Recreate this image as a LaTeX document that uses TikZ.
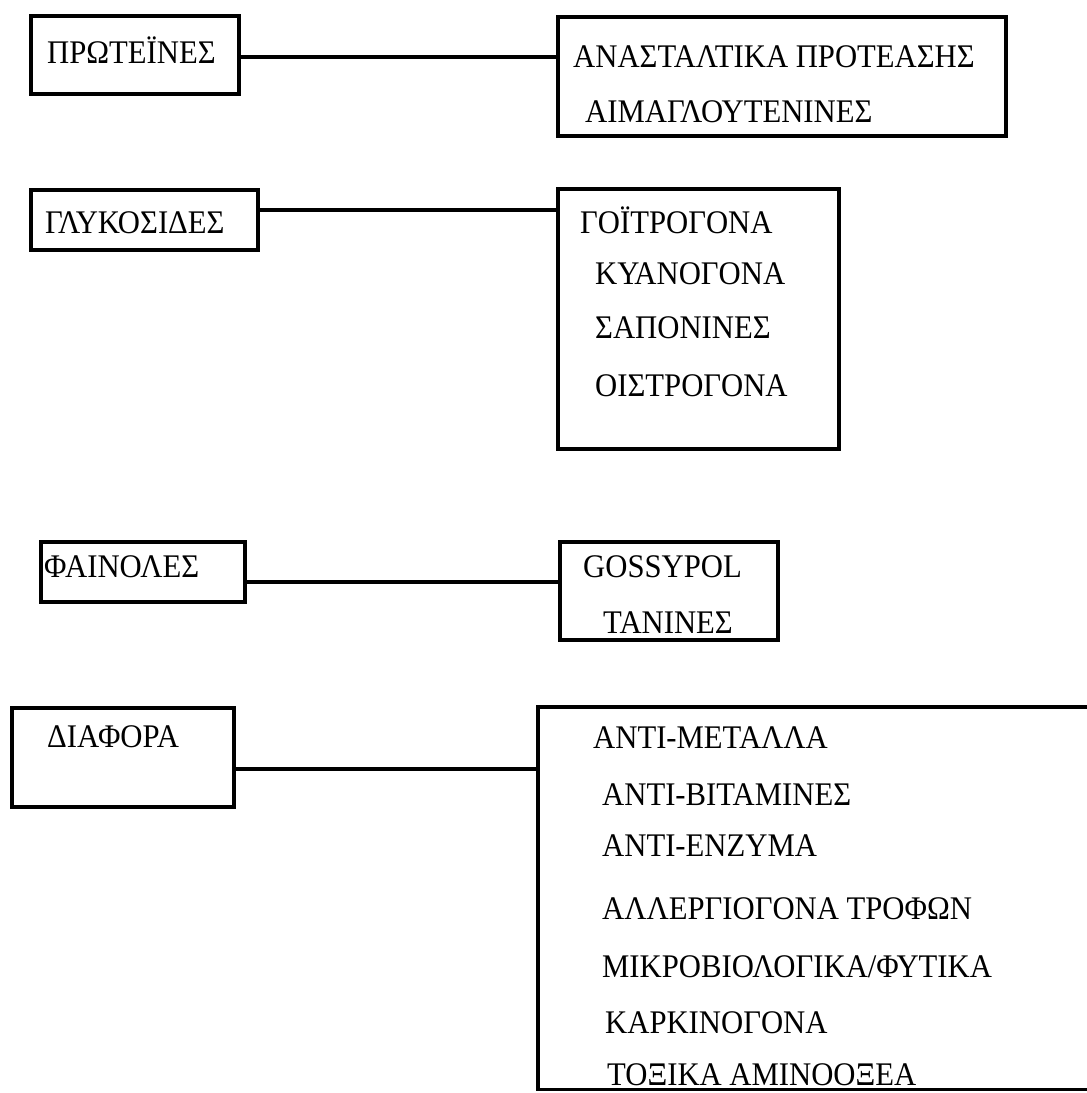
\documentclass[tikz,border=0pt]{standalone}
\usepackage{fontspec}
\setmainfont{Liberation Serif}[FakeStretch=0.93]
\begin{document}
\begin{tikzpicture}[x=1pt,y=-1pt,
  box/.style={draw,line width=3.8pt,anchor=north west,inner sep=0pt},
  openbox/.style={anchor=north west,inner sep=0pt},
  conn/.style={line width=3.6pt},
  txt/.style={anchor=base west,inner sep=0pt,font=\fontsize{33}{38}\selectfont}]
\useasboundingbox[fill=white] (0,0) rectangle (1087,1093);
% left boxes
\node[box,minimum width=208pt,minimum height=78pt] (b1) at (29,14) {};
\node[box,minimum width=227pt,minimum height=60pt] (b2) at (29,188) {};
\node[box,minimum width=204pt,minimum height=60pt] (b3) at (39,540) {};
\node[box,minimum width=222pt,minimum height=99pt] (b4) at (10,706) {};
% right boxes
\node[box,minimum width=448pt,minimum height=119pt] (r1) at (556,15) {};
\node[box,minimum width=281pt,minimum height=260pt] (r2) at (556,187) {};
\node[box,minimum width=218pt,minimum height=98pt] (r3) at (558,540) {};
\node[openbox,minimum width=560pt,minimum height=382pt] (r4) at (538,707) {};
\draw[line width=3.8pt] (r4.north east) -- (r4.north west) -- (r4.south west) -- (r4.south east);
% connectors
\draw[conn] ([yshift=-2pt]b1.east) -- ([yshift=-2pt]b1.east -| r1.west);
\draw[conn] ([yshift=10pt]b2.east) -- ([yshift=10pt]b2.east -| r2.west);
\draw[conn] ([yshift=-10pt]b3.east) -- ([yshift=-10pt]b3.east -| r3.west);
\draw[conn] ([yshift=-11.5pt]b4.east) -- ([yshift=-11.5pt]b4.east -| r4.west);
% left texts
\node[txt] (l1) at (47,63) {ΠΡΩΤΕΪΝΕΣ};
\node[txt] (l2) at (45,233) {ΓΛΥΚΟΣΙΔΕΣ};
\node[txt] (l3) at (44,577) {ΦΑΙΝΟΛΕΣ};
\node[txt] (l4) at (47,747) {ΔΙΑΦΟΡΑ};
% right texts
\node[txt] (a1) at (573,67) {ΑΝΑΣΤΑΛΤΙΚΑ ΠΡΟΤΕΑΣΗΣ};
\node[txt] (a2) at (585,122) {ΑΙΜΑΓΛΟΥΤΕΝΙΝΕΣ};
\node[txt] (g1) at (580,233) {ΓΟΪΤΡΟΓΟΝΑ};
\node[txt] (g2) at (595,284) {ΚΥΑΝΟΓΟΝΑ};
\node[txt] (g3) at (595,338) {ΣΑΠΟΝΙΝΕΣ};
\node[txt] (g4) at (595,396) {ΟΙΣΤΡΟΓΟΝΑ};
\node[txt] (f1) at (583,577) {GOSSYPOL};
\node[txt] (f2) at (603,633) {ΤΑΝΙΝΕΣ};
\node[txt] (d1) at (593,748) {ΑΝΤΙ-ΜΕΤΑΛΛΑ};
\node[txt] (d2) at (602,805) {ΑΝΤΙ-ΒΙΤΑΜΙΝΕΣ};
\node[txt] (d3) at (602,856) {ΑΝΤΙ-ΕΝΖΥΜΑ};
\node[txt] (d4) at (602,919) {ΑΛΛΕΡΓΙΟΓΟΝΑ ΤΡΟΦΩΝ};
\node[txt] (d5) at (602,977) {ΜΙΚΡΟΒΙΟΛΟΓΙΚΑ/ΦΥΤΙΚΑ};
\node[txt] (d6) at (605,1033) {ΚΑΡΚΙΝΟΓΟΝΑ};
\node[txt] (d7) at (607,1085) {ΤΟΞΙΚΑ ΑΜΙΝΟΟΞΕΑ};
\end{tikzpicture}
\end{document}
